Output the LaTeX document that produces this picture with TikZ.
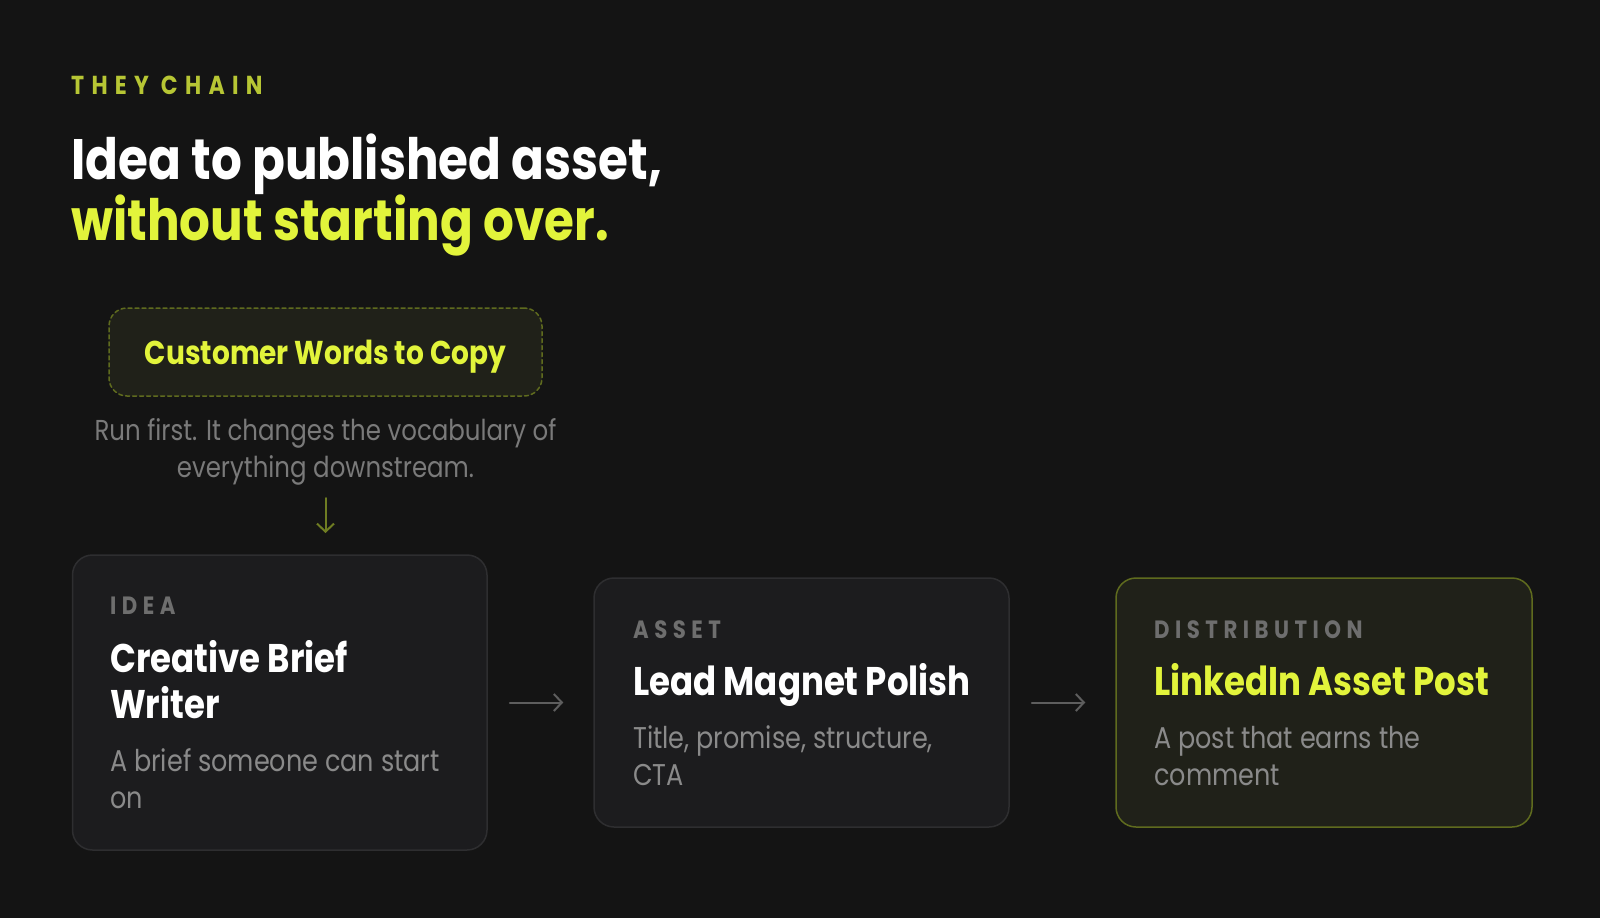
\documentclass[tikz,border=0pt]{standalone}
\usepackage{fontspec}
\setmainfont{Poppins}[FakeStretch=0.85]
\usetikzlibrary{arrows.meta}
\definecolor{bg}{HTML}{141414}
\definecolor{lime}{HTML}{E2F43B}
\definecolor{limedim}{HTML}{B7C634}
\definecolor{limeline}{HTML}{5F6B1E}
\definecolor{limefill}{HTML}{202119}
\definecolor{cardfill}{HTML}{1C1C1E}
\definecolor{cardline}{HTML}{2E2E30}
\definecolor{taggray}{HTML}{6E6E6E}
\definecolor{bodygray}{HTML}{8A8A8A}
\definecolor{notegray}{HTML}{7A7A7A}
\definecolor{arrgray}{HTML}{5E5E5E}
\definecolor{arrlime}{HTML}{6F7D22}
\tikzset{
  card/.style={draw=cardline, fill=cardfill, line width=1.5pt, rounded corners=20pt},
  hotcard/.style={card, draw=limeline, fill=limefill},
  tag/.style={anchor=base west, inner sep=0pt, text=taggray,
    font=\fontsize{25}{30}\selectfont\bfseries\addfontfeature{LetterSpace=22}},
  cardtitle/.style={anchor=base west, inner sep=0pt, align=left, text=white,
    font=\fontsize{40}{46}\selectfont\bfseries},
  cardbody/.style={anchor=base west, inner sep=0pt, align=left, text=bodygray,
    font=\fontsize{30}{37}\selectfont},
  flow/.style={draw=arrgray, line width=2pt, -{Straight Barb[length=8pt,width=17pt]}}
}
\begin{document}
\begin{tikzpicture}[x=1pt,y=1pt,line cap=round,line join=round]
\fill[bg] (0,0) rectangle (1600,-918);
\useasboundingbox (0,0) rectangle (1600,-918);
% heading
\node[anchor=base west, inner sep=0pt, text=limedim,
  font=\fontsize{26}{30}\selectfont\bfseries\addfontfeature{LetterSpace=28}] (kicker) at (71,-94) {THEY CHAIN};
\node[anchor=base west, inner sep=0pt, text=white,
  font=\fontsize{57}{61}\selectfont\bfseries] (head1) at (71,-179) {Idea to published asset,};
\node[anchor=base west, inner sep=0pt, text=lime,
  font=\fontsize{57}{61}\selectfont\bfseries] (head2) at (71,-240) {without starting over.};
% first step
\node[card, draw=limeline, fill=limefill, dashed, dash pattern=on 4pt off 3pt,
  minimum width=433, minimum height=88, rounded corners=18pt] (copy) at (325.5,-352) {};
\node[anchor=base, inner sep=0pt, text=lime, font=\fontsize{33}{40}\selectfont\bfseries] (copytxt) at (325.5,-364) {Customer Words to Copy};
\node[anchor=base, inner sep=0pt, align=center, text=notegray, font=\fontsize{28.8}{37}\selectfont] (note) at (325.5,-477)
  {Run first. It changes the vocabulary of\\everything downstream.};
\coordinate (drop1) at (325.5,-498);
\coordinate (drop2) at (325.5,-533);
\draw[flow, draw=arrlime] (drop1) -- (drop2);
% the chain
\node[card, minimum width=414.5, minimum height=295] (idea) at (279.75,-702.5) {};
\node[card, minimum width=415, minimum height=249] (asset) at (801.5,-702.5) {};
\node[hotcard, minimum width=416, minimum height=249] (dist) at (1324,-702.5) {};
\draw[flow, shorten <=22pt, shorten >=30pt] (idea.east) -- (asset.west);
\draw[flow, shorten <=22pt, shorten >=30pt] (asset.east) -- (dist.west);
% card texts
\node[tag] (ideatag) at (110,-614) {IDEA};
\node[cardtitle] (ideaname) at (110,-718) {Creative Brief\\Writer};
\node[cardbody] (ideabody) at (110,-808) {A brief someone can start\\on};
\node[tag] (assettag) at (633,-638) {ASSET};
\node[cardtitle] (assetname) at (633,-695) {Lead Magnet Polish};
\node[cardbody] (assetbody) at (633,-785) {Title, promise, structure,\\CTA};
\node[tag] (disttag) at (1154,-638) {DISTRIBUTION};
\node[cardtitle, text=lime] (distname) at (1154,-695) {LinkedIn Asset Post};
\node[cardbody] (distbody) at (1154,-785) {A post that earns the\\comment};
\end{tikzpicture}
\end{document}
